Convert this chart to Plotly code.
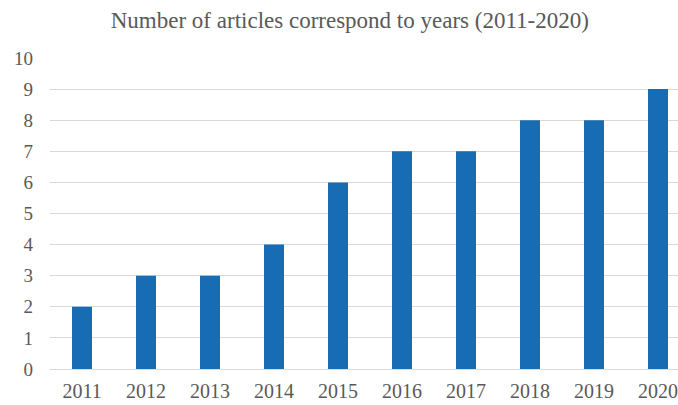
import plotly.graph_objects as go

years = ["2011", "2012", "2013", "2014", "2015", "2016", "2017", "2018", "2019", "2020"]
articles = [2, 3, 3, 4, 6, 7, 7, 8, 8, 9]
y_ticks = list(range(0, 11))

fig = go.Figure(go.Bar(x=years, y=articles, marker_color="#176CB3", marker_line_width=0))

fig.update_layout(
    width=678, height=405,
    margin=dict(l=50, r=0, t=58, b=36),
    paper_bgcolor="white", plot_bgcolor="white",
    bargap=0.6875,
    font=dict(family="Liberation Serif", color="#595959", size=19),
    title=dict(text="Number of articles correspond to years (2011-2020)",
               x=0.516, xref="container", xanchor="center", y=0.95, yanchor="middle",
               font=dict(family="Liberation Serif", size=23, color="#595959")),
    showlegend=False,
)
fig.update_xaxes(type="category", range=[-0.5, 9.3125], showgrid=False, showline=False,
                 ticks="", ticklabelstandoff=8, tickfont=dict(size=20))
fig.update_yaxes(range=[0, 10], tickvals=y_ticks, showgrid=True, gridcolor="#D9D9D9",
                 gridwidth=1, zeroline=True, zerolinecolor="#D9D9D9", zerolinewidth=1,
                 showline=False, ticks="", ticklabelstandoff=16, tickfont=dict(size=19))

fig.write_html("out.html")
